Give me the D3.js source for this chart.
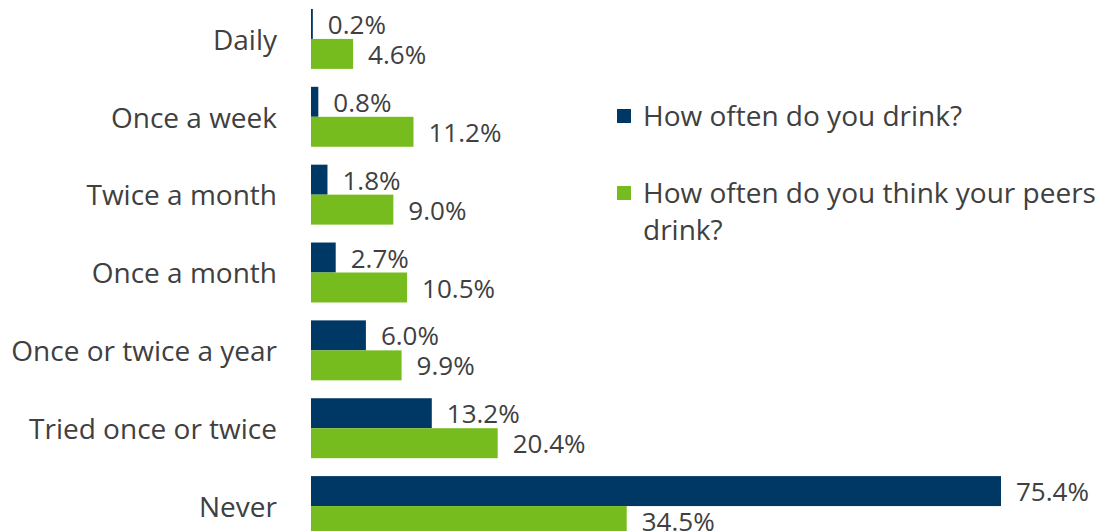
<!DOCTYPE html>
<html>
<head>
<meta charset="utf-8">
<script src="https://cdn.jsdelivr.net/npm/d3@7"></script>
<style>
    body { margin: 0; background: #fff; }
    svg text { font-family: "Open Sans", "Noto Sans", sans-serif; fill: #404040; }
</style>
</head>
<body>
<svg id="chart"></svg>
<script>
const categories = ['Daily', 'Once a week', 'Twice a month', 'Once a month',
    'Once or twice a year', 'Tried once or twice', 'Never'];
const seriesNames = ['How often do you drink?', 'How often do you think your peers drink?'];
const selfValues = [0.2, 0.8, 1.8, 2.7, 6.0, 13.2, 75.4];
const peerValues = [4.6, 11.2, 9.0, 10.5, 9.9, 20.4, 34.5];
const colors = ['#003865', '#77bc1f'];

const width = 1096;
const height = 531;
const left = 311;

const svg = d3.select('#chart')
    .attr('width', width)
    .attr('height', height);

const y = d3.scaleBand()
    .domain(categories)
    .range([0, 545])
    .paddingInner(0.23)
    .paddingOuter(0.115);

const sub = d3.scaleBand()
    .domain([0, 1])
    .range([0, y.bandwidth()]);

const x = d3.scaleLinear()
    .domain([0, 75.4])
    .range([left, 1001]);

const rows = categories.map((c, i) => ({
    name: c,
    values: [selfValues[i], peerValues[i]]
}));

const group = svg.selectAll('.row')
    .data(rows).enter().append('g')
    .attr('class', 'row')
    .attr('transform', d => `translate(0,${y(d.name)})`);

group.append('text')
    .text(d => d.name)
    .attr('x', 277)
    .attr('y', y.bandwidth() / 2 + 1)
    .attr('dy', '0.35em')
    .attr('text-anchor', 'end')
    .attr('font-size', '28px');

const bar = group.selectAll('.bar')
    .data(d => d.values.map((v, k) => ({ v, k })))
    .enter().append('g')
    .attr('class', 'bar');

bar.append('rect')
    .attr('x', x(0))
    .attr('y', d => sub(d.k))
    .attr('width', d => x(d.v) - x(0))
    .attr('height', sub.bandwidth())
    .style('fill', d => colors[d.k]);

bar.append('text')
    .text(d => d.v.toFixed(1) + '%')
    .attr('x', d => x(d.v) + 15)
    .attr('y', d => sub(d.k) + sub.bandwidth() / 2 + 1)
    .attr('dy', '0.35em')
    .attr('font-size', '26px');

// legend
const legend = svg.append('g')
    .attr('transform', 'translate(617,0)');

const legendY = [116, 193];

legend.selectAll('rect')
    .data(seriesNames).enter().append('rect')
    .attr('x', 0)
    .attr('y', (d, i) => legendY[i] - 7)
    .attr('width', 14)
    .attr('height', 14)
    .style('fill', (d, i) => colors[i]);

const legendText = legend.selectAll('text.lg')
    .data(seriesNames).enter().append('text')
    .attr('class', 'lg')
    .attr('x', 26)
    .attr('y', (d, i) => legendY[i])
    .attr('dy', '0.35em')
    .attr('font-size', '28px');

legendText.each(function (d) {
    const t = d3.select(this);
    if (d.length > 30) {
        t.append('tspan').attr('x', 26).text('How often do you think your peers');
        t.append('tspan').attr('x', 26).attr('dy', 37).text('drink?');
    } else {
        t.text(d);
    }
});
</script>
</body>
</html>
